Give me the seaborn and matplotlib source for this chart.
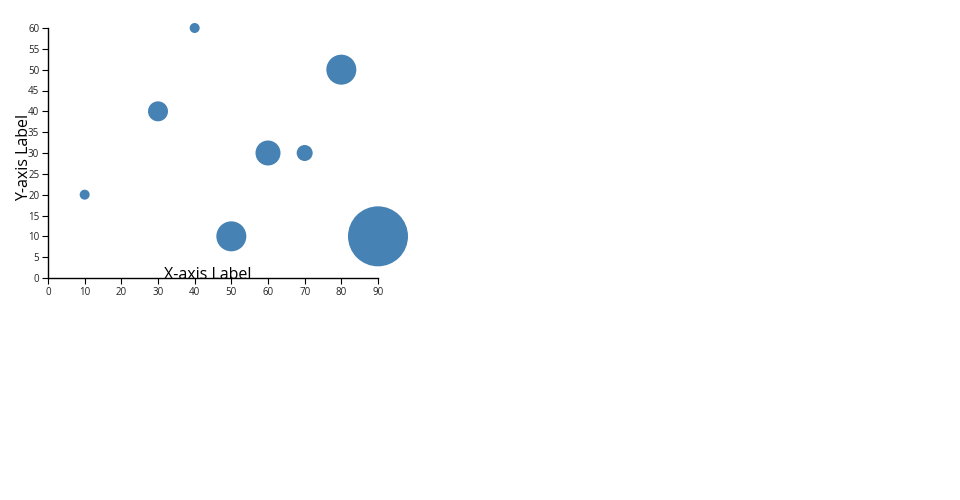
import pandas as pd
import matplotlib.pyplot as plt
import seaborn as sns

# bubble data
x_vals = [10, 30, 40, 50, 60, 70, 80, 90]
y_vals = [20, 40, 60, 10, 30, 30, 50, 10]
radius = [5, 10, 5, 15, 12.5, 8, 15, 30]

df = pd.DataFrame({"x": x_vals, "y": y_vals, "r": radius})
df["area"] = df["r"] ** 2

sns.set_style("white")
plt.rcParams["font.family"] = ["Open Sans", "DejaVu Sans"]

fig = plt.figure(figsize=(9.6, 5), dpi=100)
ax = fig.add_axes([48 / 960, 1 - 278 / 500, 330 / 960, 250 / 500])

# marker area in pt^2: (2 * r px * 0.72)^2
smin = (2 * min(radius) * 0.72) ** 2
smax = (2 * max(radius) * 0.72) ** 2
sns.scatterplot(data=df, x="x", y="y", size="area", sizes=(smin, smax),
                color="#4682b4", edgecolor="none", alpha=1, legend=False,
                ax=ax, clip_on=False)

ax.set_xlim(0, 90)
ax.set_ylim(0, 60)
ax.set_xticks(range(0, 91, 10))
ax.set_yticks(range(0, 61, 5))
ax.set_xlabel("")
ax.set_ylabel("")
for side in ["top", "right"]:
    ax.spines[side].set_visible(False)
for side in ["left", "bottom"]:
    ax.spines[side].set_color("black")
    ax.spines[side].set_linewidth(1)
ax.tick_params(axis="both", length=4.3, width=0.8, color="black", pad=2,
               labelsize=7, labelcolor="#222222", bottom=True, left=True)

fig.text(208 / 960, 1 - 279 / 500, "X-axis Label", ha="center", va="baseline",
         fontsize=11.5, color="black")
fig.text(24.5 / 960, 1 - 157 / 500, "Y-axis Label", ha="center", va="center",
         rotation=90, fontsize=11.5, color="black")

fig.savefig("out.png", dpi=100)
